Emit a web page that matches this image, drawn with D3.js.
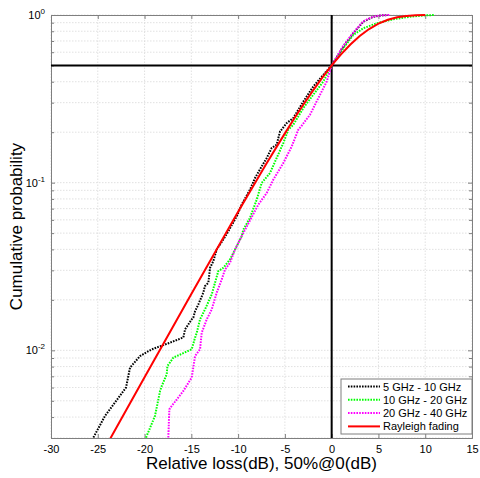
<!DOCTYPE html>
<html>
<head>
<meta charset="utf-8">
<script src="https://cdn.jsdelivr.net/npm/d3@7"></script>
<style>
  html, body { margin: 0; padding: 0; background: #fff; }
  svg { display: block; font-family: "Liberation Sans", Arial, sans-serif; }
</style>
</head>
<body>
<svg id="chart" width="480" height="478"></svg>
<script>
// Relative loss (dB) vs. cumulative probability, [dB, probability] pairs
const band5to10 = [
  [-25.47, 0.00302], [-24.22, 0.00407], [-21.98, 0.00600], [-21.55, 0.00789],
  [-20.48, 0.00925], [-19.23, 0.01014], [-17.28, 0.01111], [-15.85, 0.01194],
  [-15.67, 0.01334], [-14.96, 0.01531], [-14.79, 0.01566], [-14.60, 0.01714],
  [-14.25, 0.01879], [-13.72, 0.02205], [-13.54, 0.02415], [-13.18, 0.02531],
  [-13.00, 0.03105], [-12.65, 0.03403], [-12.29, 0.03993], [-11.58, 0.04581],
  [-11.05, 0.05129], [-10.15, 0.06295], [-9.62, 0.07396], [-8.73, 0.09087],
  [-8.19, 0.1067], [-7.48, 0.1250], [-6.94, 0.1403], [-6.41, 0.1609],
  [-5.88, 0.1684], [-5.52, 0.2019], [-4.81, 0.2266], [-4.10, 0.2429],
  [-3.03, 0.3048], [-1.97, 0.3742], [-0.90, 0.4395], [0, 0.5],
  [1.24, 0.6476], [2.31, 0.7780], [3.38, 0.9124], [4.44, 0.977],
  [5.4, 0.995], [6.0, 1.0]
];
const band10to20 = [
  [-19.84, 0.00302], [-18.88, 0.00407], [-18.34, 0.00573], [-18.16, 0.00613],
  [-17.63, 0.00720], [-17.56, 0.00806], [-16.92, 0.00905], [-14.96, 0.01014],
  [-14.60, 0.01191], [-14.42, 0.01274], [-14.07, 0.01531], [-13.54, 0.01754],
  [-12.82, 0.02155], [-12.47, 0.02529], [-12.12, 0.02965], [-11.58, 0.03105],
  [-10.87, 0.03483], [-10.15, 0.04176], [-9.62, 0.04788], [-9.44, 0.05250],
  [-8.73, 0.06166], [-8.01, 0.07925], [-7.48, 0.09957], [-6.59, 0.1142],
  [-5.88, 0.1403], [-5.17, 0.1723], [-4.64, 0.2068], [-4.10, 0.2215],
  [-3.03, 0.2784], [-1.97, 0.3342], [-0.90, 0.4009], [0, 0.5],
  [1.24, 0.6335], [2.31, 0.7603], [3.38, 0.8335], [4.81, 0.8925],
  [6.58, 0.9428], [8.37, 0.9770], [10.0, 0.995], [11.0, 1.0]
];
const band20to40 = [
  [-17.46, 0.00302], [-17.35, 0.00445], [-17.09, 0.00466], [-15.85, 0.00573],
  [-14.96, 0.00688], [-14.60, 0.00925], [-14.07, 0.01014], [-13.89, 0.01274],
  [-13.35, 0.01531], [-12.82, 0.01754], [-12.29, 0.02205], [-11.75, 0.02648],
  [-11.40, 0.03035], [-10.87, 0.03326], [-10.33, 0.03993], [-9.80, 0.04581],
  [-9.08, 0.0547], [-7.84, 0.07396], [-6.94, 0.08686], [-6.24, 0.1042],
  [-5.17, 0.1310], [-4.27, 0.1644], [-3.57, 0.2068], [-3.21, 0.2185],
  [-2.32, 0.2539], [-1.43, 0.3192], [-0.53, 0.4009], [0, 0.5],
  [1.24, 0.655], [2.31, 0.785], [3.38, 0.918], [4.44, 0.978],
  [5.3, 0.995], [6.2, 1.0]
];
const rayleigh = [
  [-24, 0.002755], [-20, 0.006907], [-15, 0.02168], [-10, 0.06697],
  [-7, 0.1292], [-5, 0.1968], [-4, 0.2412], [-3, 0.2935], [-2, 0.3542],
  [-1, 0.4234], [0, 0.5], [1, 0.5821], [2, 0.6666], [3, 0.7492],
  [4, 0.8247], [5, 0.8883], [6, 0.9367], [7, 0.9690], [8, 0.9874],
  [9, 0.99594], [10, 0.99902]
];

const seriesNames = ["5 GHz - 10 GHz", "10 GHz - 20 GHz", "20 GHz - 40 GHz", "Rayleigh fading"];
const seriesColors = ["#000000", "#00ff00", "#ff00ff", "#ff0000"];
const xTicks = [-30, -25, -20, -15, -10, -5, 0, 5, 10, 15];
const xTickLabels = ["-30", "-25", "-20", "-15", "-10", "-5", "0", "5", "10", "15"];
const yMajorTicks = [0.01, 0.1, 1];
const yTickExponents = ["-2", "-1", "0"];
const xDomain = [-30, 15];
const yDomain = [0.003, 1];
const refLevel = 0.5;   // median reference
const refLoss = 0;      // 0 dB at the median

const svg = d3.select("#chart");
const margin = { left: 51, right: 8, top: 15, bottom: 40 };
const W = 480, H = 478;
const x = d3.scaleLinear().domain(xDomain).range([margin.left, W - margin.right]);
const y = d3.scaleLog().domain(yDomain).range([H - margin.bottom, margin.top]);
const x0 = x.range()[0], x1 = x.range()[1];
const y0 = y.range()[0], y1 = y.range()[1];

// minor decade ticks for the log axis
const yMinor = [];
[0.001, 0.01, 0.1].forEach(d => {
  for (let k = 2; k <= 9; k++) {
    const v = d * k;
    if (v >= yDomain[0] && v <= yDomain[1]) yMinor.push(v);
  }
});

// grid
const grid = svg.append("g").attr("stroke", "#d9d9d9").attr("stroke-width", 0.8)
  .attr("stroke-dasharray", "1.5,1.5");
xTicks.forEach(t => grid.append("line")
  .attr("x1", x(t)).attr("x2", x(t)).attr("y1", y0).attr("y2", y1));
yMajorTicks.concat(yMinor).forEach(t => grid.append("line")
  .attr("x1", x0).attr("x2", x1).attr("y1", y(t)).attr("y2", y(t)));

// axes (inward ticks, box)
const axisColor = "#7f7f7f";
const gB = svg.append("g").attr("transform", `translate(0,${y0})`)
  .call(d3.axisBottom(x).tickValues(xTicks).tickSize(-4).tickPadding(7)
    .tickFormat((d, i) => xTickLabels[i]));
const gT = svg.append("g").attr("transform", `translate(0,${y1})`)
  .call(d3.axisTop(x).tickValues(xTicks).tickSize(-4).tickFormat(""));
const gL = svg.append("g").attr("transform", `translate(${x0},0)`)
  .call(d3.axisLeft(y).tickValues(yMajorTicks.concat(yMinor)).tickSize(-4).tickFormat(""));
const gR = svg.append("g").attr("transform", `translate(${x1},0)`)
  .call(d3.axisRight(y).tickValues(yMajorTicks.concat(yMinor)).tickSize(-4).tickFormat(""));
[gB, gT, gL, gR].forEach(g => {
  g.select(".domain").attr("stroke", axisColor);
  g.selectAll(".tick line").attr("stroke", axisColor);
});
gL.selectAll(".tick line").filter(d => yMinor.includes(d)).attr("x2", 3);
gR.selectAll(".tick line").filter(d => yMinor.includes(d)).attr("x2", -3);
gB.selectAll(".tick text").attr("font-size", 11).attr("fill", "#000")
  .attr("font-family", "Liberation Sans, Arial, sans-serif");

// y tick labels as powers of ten
yMajorTicks.forEach((t, i) => {
  const tx = svg.append("text").attr("x", x0 - 6).attr("y", y(t) + 4)
    .attr("text-anchor", "end").attr("font-size", 11).attr("fill", "#000");
  tx.append("tspan").text("10");
  tx.append("tspan").attr("dy", -5).attr("font-size", 8).text(yTickExponents[i]);
});

// median reference lines
svg.append("line").attr("x1", x0).attr("x2", x1).attr("y1", y(refLevel)).attr("y2", y(refLevel))
  .attr("stroke", "#000").attr("stroke-width", 2);
svg.append("line").attr("x1", x(refLoss)).attr("x2", x(refLoss)).attr("y1", y0).attr("y2", y1)
  .attr("stroke", "#000").attr("stroke-width", 2);

// curves
const line = d3.line().x(d => x(d[0])).y(d => y(d[1]));
svg.append("defs").append("clipPath").attr("id", "plotclip")
  .append("rect").attr("x", x0).attr("y", y1 - 2).attr("width", x1 - x0).attr("height", y0 - y1 + 2);
const plot = svg.append("g").attr("clip-path", "url(#plotclip)");
const allSeries = [band5to10, band10to20, band20to40, rayleigh];
allSeries.forEach((data, i) => {
  plot.append("path").datum(data).attr("d", line)
    .attr("fill", "none").attr("stroke", seriesColors[i])
    .attr("stroke-width", 2)
    .attr("stroke-dasharray", i < 3 ? "1.6,1.2" : null);
});

// legend
const lg = svg.append("g");
const lgX = 341, lgY = 379, lgW = x1 - lgX, lgH = 55;
lg.append("rect").attr("x", lgX).attr("y", lgY).attr("width", lgW).attr("height", lgH)
  .attr("fill", "#fff").attr("stroke", axisColor).attr("stroke-width", 1);
seriesNames.forEach((name, i) => {
  const ry = lgY + 7.5 + i * 13.3;
  lg.append("line").attr("x1", lgX + 7).attr("x2", lgX + 39).attr("y1", ry).attr("y2", ry)
    .attr("stroke", seriesColors[i]).attr("stroke-width", 2)
    .attr("stroke-dasharray", i < 3 ? "1.6,1.2" : null);
  lg.append("text").attr("x", lgX + 42).attr("y", ry + 4).attr("font-size", 11)
    .attr("fill", "#000").text(name);
});

// axis titles
svg.append("text").attr("x", (x0 + x1) / 2).attr("y", 469).attr("text-anchor", "middle")
  .attr("font-size", 17).attr("fill", "#000").text("Relative loss(dB), 50%@0(dB)");
svg.append("text").attr("transform", `translate(22,${(y0 + y1) / 2}) rotate(-90)`)
  .attr("text-anchor", "middle").attr("font-size", 17).attr("fill", "#000")
  .text("Cumulative probability");
</script>
</body>
</html>
